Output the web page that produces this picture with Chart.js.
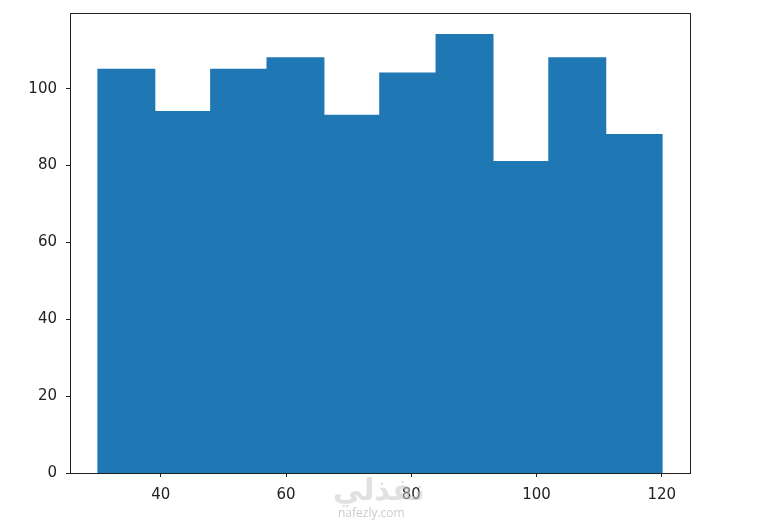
<!DOCTYPE html>
<html><head><meta charset="utf-8">
<script src="https://cdn.jsdelivr.net/npm/chart.js@4/dist/chart.umd.min.js"></script>
<style>html,body{margin:0;padding:0;background:#fff}#wrap{width:761px;height:521px;position:relative}
.wm1{position:absolute;left:333px;top:468px;font:bold 30px "Noto Sans","DejaVu Sans",sans-serif;color:rgba(200,200,200,0.55);direction:rtl}
.wm2{position:absolute;left:338px;top:504px;font:12px "Open Sans","DejaVu Sans",sans-serif;color:rgba(190,190,190,0.8)}
</style>
</head><body><div id="wrap"><canvas id="c" width="761" height="521"></canvas>
<div class="wm1">نفذلي</div><div class="wm2">nafezly.com</div></div>
<script>
const binEdges = [30, 39, 48, 57, 66, 75, 84, 93, 102, 111, 120];
const counts = [105, 94, 105, 108, 93, 104, 114, 81, 108, 88];
const xTicks = [40, 60, 80, 100, 120];
const yTicks = [0, 20, 40, 60, 80, 100];

const barData = counts.map((c, i) => ({ x: (binEdges[i] + binEdges[i + 1]) / 2, y: c }));
const span = binEdges[binEdges.length - 1] - binEdges[0];
const xMin = binEdges[0] - span * 0.05, xMax = binEdges[binEdges.length - 1] + span * 0.05;
const yMax = Math.max(...counts) * 1.05;

const frame = {
  id: 'frame',
  afterDatasetsDraw(chart) {
    const a = chart.chartArea, ctx = chart.ctx;
    ctx.save();
    ctx.strokeStyle = '#222';
    ctx.lineWidth = 1;
    ctx.strokeRect(Math.round(a.left) + 0.5, Math.round(a.top) + 0.5, Math.round(a.right - a.left), Math.round(a.bottom - a.top));
    ctx.restore();
  }
};
const font = { family: '"DejaVu Sans", sans-serif', size: 15 };
Chart.defaults.color = '#222';
new Chart(document.getElementById('c'), {
  type: 'bar',
  data: { datasets: [{ data: barData, backgroundColor: '#1f77b4', borderWidth: 0, inflateAmount: 0.8, barPercentage: 1, categoryPercentage: 1 }] },
  options: {
    responsive: false, animation: false,
    layout: { padding: { top: 13, right: 71, left: 0, bottom: 0 } },
    plugins: { legend: { display: false }, tooltip: { enabled: false } },
    scales: {
      x: {
        type: 'linear', min: xMin, max: xMax, offset: false,
        afterBuildTicks: s => { s.ticks = xTicks.map(v => ({ value: v })); },
        afterFit: s => { s.height = 48; s.paddingLeft = 0; s.paddingRight = 0; },
        grid: { drawOnChartArea: false, offset: false, tickLength: 4, tickColor: '#222' },
        border: { display: false },
        ticks: { font, padding: 9, color: '#222', maxRotation: 0 }
      },
      y: {
        min: 0, max: yMax,
        afterBuildTicks: s => { s.ticks = yTicks.map(v => ({ value: v })); },
        afterFit: s => { s.width = 70; s.paddingTop = 0; s.paddingBottom = 0; },
        grid: { drawOnChartArea: false, tickLength: 4, tickColor: '#222' },
        border: { display: false },
        ticks: { font, padding: 9, color: '#222' }
      }
    }
  },
  plugins: [frame]
});
</script>
</body></html>
